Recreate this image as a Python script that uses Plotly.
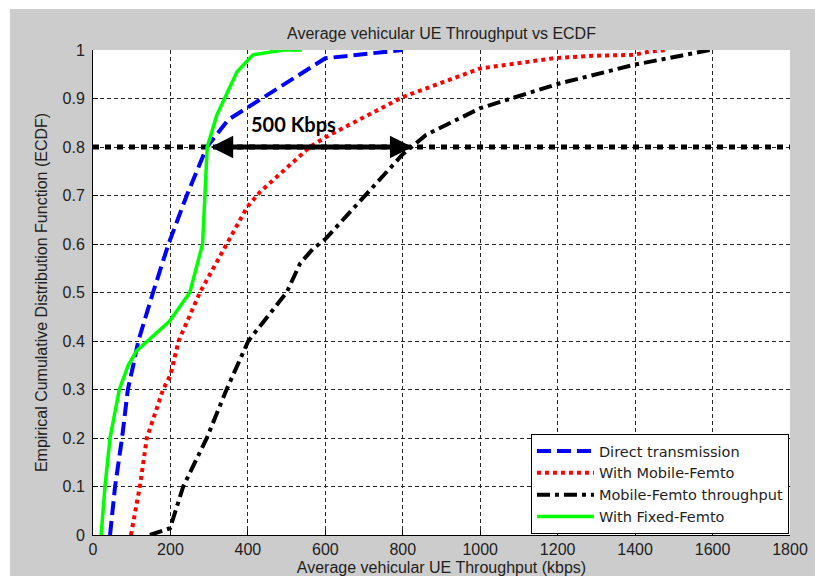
import plotly.graph_objects as go

# ---------------- data ----------------
direct_x = [44, 57, 75, 90, 104, 117, 155, 195, 242, 294, 349, 600, 800]
direct_y = [0, 0.1, 0.2, 0.3, 0.35, 0.4, 0.5, 0.6, 0.7, 0.8, 0.856, 0.983, 1.0]

mobile_x = [98, 121, 139, 181, 200, 221, 276, 354, 398, 431, 560, 600, 800, 1000, 1190, 1290, 1395, 1440, 1482]
mobile_y = [0, 0.1, 0.2, 0.3, 0.33, 0.4, 0.5, 0.614, 0.676, 0.707, 0.80, 0.82, 0.903, 0.962, 0.983, 0.988, 0.99, 0.997, 1.0]

mfthr_x = [147, 199, 233, 294, 345, 401, 500, 535, 568, 600, 800, 860, 1000, 1200, 1400, 1594]
mfthr_y = [0, 0.014, 0.1, 0.2, 0.3, 0.4, 0.5, 0.56, 0.59, 0.61, 0.785, 0.825, 0.88, 0.93, 0.97, 1.0]

fixed_x = [21, 31, 44, 68, 91, 113, 197, 250, 283, 288, 295, 320, 372, 413, 490, 540]
fixed_y = [0, 0.1, 0.2, 0.3, 0.35, 0.38, 0.44, 0.5, 0.6, 0.7, 0.8, 0.866, 0.955, 0.99, 1.0, 1.0]

ref_level = 0.8
ref_x = [0, 1800]
arrow_from = 300
arrow_to = 825
gap_label = "500 Kbps"
gap_label_x = 517
gap_label_y = 0.848

x_ticks = [0, 200, 400, 600, 800, 1000, 1200, 1400, 1600, 1800]
y_ticks = [0, 0.1, 0.2, 0.3, 0.4, 0.5, 0.6, 0.7, 0.8, 0.9, 1]
y_tick_text = ["0", "0.1", "0.2", "0.3", "0.4", "0.5", "0.6", "0.7", "0.8", "0.9", "1"]

FONT = "Arial, Liberation Sans, sans-serif"
TXT = "#1e1e1e"

fig = go.Figure()

# reference level line (not in legend)
fig.add_trace(go.Scatter(x=ref_x, y=[ref_level, ref_level], mode="lines",
                         line=dict(color="black", width=5, dash="6px,6px"),
                         showlegend=False, hoverinfo="skip"))

fig.add_trace(go.Scatter(x=direct_x, y=direct_y, mode="lines", name="Direct transmission",
                         line=dict(color="#0000ff", width=4, dash="14px,6px")))
fig.add_trace(go.Scatter(x=mobile_x, y=mobile_y, mode="lines", name="With Mobile-Femto",
                         line=dict(color="#ff0000", width=4, dash="4px,4px")))
fig.add_trace(go.Scatter(x=mfthr_x, y=mfthr_y, mode="lines", name="Mobile-Femto throughput",
                         line=dict(color="black", width=4, dash="13px,5px,4px,5px")))
fig.add_trace(go.Scatter(x=fixed_x, y=fixed_y, mode="lines", name="With Fixed-Femto",
                         line=dict(color="#00ff00", width=3.5)))

# double-headed arrow
fig.add_annotation(x=arrow_to, y=ref_level, ax=arrow_from, ay=ref_level,
                   xref="x", yref="y", axref="x", ayref="y", text="",
                   showarrow=True, arrowhead=2, arrowside="end+start",
                   arrowwidth=5, arrowsize=0.9, arrowcolor="black", standoff=0, startstandoff=0)
fig.add_annotation(x=gap_label_x, y=gap_label_y, xref="x", yref="y",
                   text="<b>" + gap_label + "</b>", showarrow=False,
                   font=dict(family="Lato, Open Sans, sans-serif", size=20, color="black"))

# white outer frame strips (gray panel starts a few px in)
fig.add_shape(type="rect", xref="paper", yref="paper", x0=-0.3, x1=-0.1191, y0=-0.2, y1=1.3,
              fillcolor="white", line_width=0, layer="below")
fig.add_shape(type="rect", xref="paper", yref="paper", x0=-0.3, x1=1.1, y0=1.0845, y1=1.3,
              fillcolor="white", line_width=0, layer="below")

axis_common = dict(showline=True, linecolor="black", linewidth=1, ticks="inside", ticklen=5,
                   tickcolor="black", showgrid=True, gridcolor="#262626", gridwidth=1,
                   griddash="4px,3px", zeroline=False, mirror=False, automargin=False,
                   tickfont=dict(family=FONT, size=16, color=TXT))

fig.update_xaxes(range=[0, 1800], tickvals=x_ticks, **axis_common,
                 title=dict(text="Average vehicular UE Throughput (kbps)", standoff=8,
                            font=dict(family=FONT, size=16, color=TXT)))
fig.update_yaxes(range=[0, 1], tickvals=y_ticks, ticktext=y_tick_text, **axis_common,
                 ticklabelstandoff=4,
                 title=dict(text="Empirical Cumulative Distribution Function (ECDF)", standoff=10,
                            font=dict(family=FONT, size=16, color=TXT)))

fig.update_layout(
    width=815, height=576,
    margin=dict(l=93, r=25, t=50, b=41),
    paper_bgcolor="#cccccc", plot_bgcolor="white",
    title=dict(text="Average vehicular UE Throughput vs ECDF", x=0.5, xref="paper",
               y=1 - 33 / 576, yref="container", yanchor="middle",
               font=dict(family=FONT, size=16, color=TXT)),
    legend=dict(x=0.9985, y=0.002, xanchor="right", yanchor="bottom",
                bgcolor="white", bordercolor="black", borderwidth=1,
                font=dict(family="DejaVu Sans, sans-serif", size=14.5, color=TXT), itemwidth=57,
                tracegroupgap=0),
    showlegend=True,
)

fig.write_html("out.html", config={"displayModeBar": False},
               post_script="document.body.style.margin='0';document.body.style.overflow='hidden';")
